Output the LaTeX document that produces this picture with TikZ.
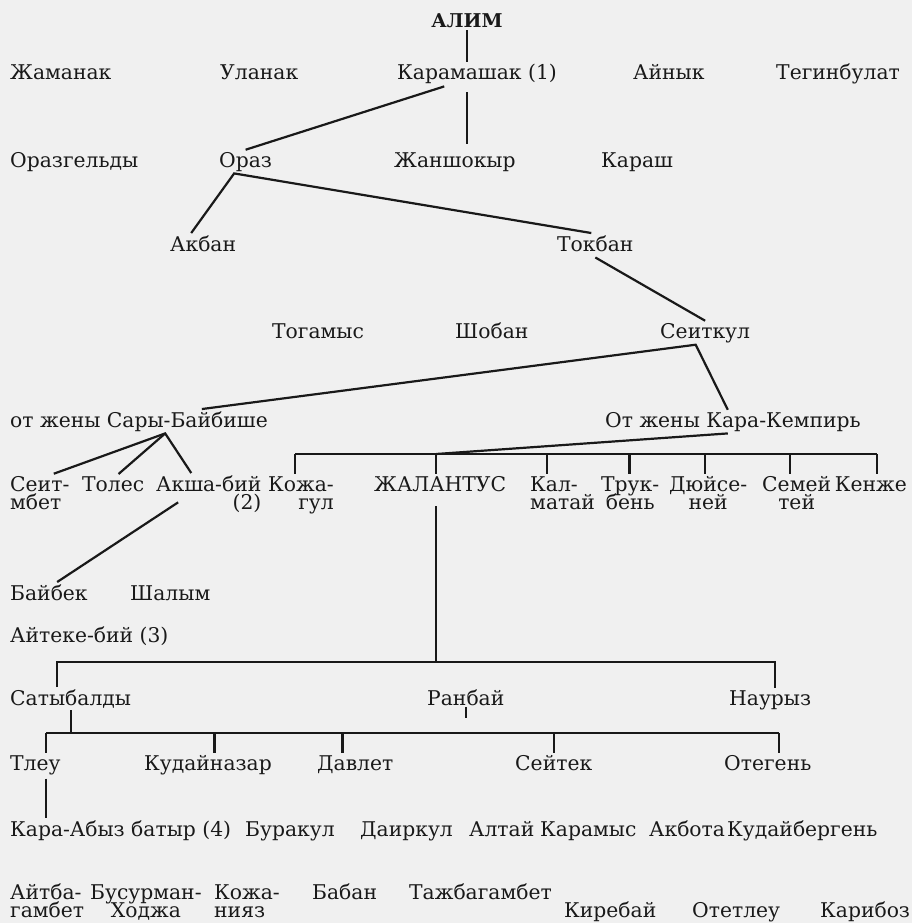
\documentclass[tikz,border=0pt]{standalone}
\usepackage{fontspec}
\setmainfont{DejaVu Serif}
\usetikzlibrary{calc}
\setlength{\lineskiplimit}{-30pt}
\tikzset{
	person/.style={anchor=base west, inner sep=2pt, text=black!90, font=\fontsize{20.3}{18}\selectfont},
	link/.style={line width=2.2pt, color=black!90}
}

\begin{document}
\begin{tikzpicture}[x=1pt, y=-1pt]
		%%%%% START %%%%%
		
		\fill[black!6] (0, 0) rectangle (912, 923);
		\useasboundingbox (0, 0) rectangle (912, 923);
		
		\node[person, anchor=base, font=\bfseries\fontsize{19}{19}\selectfont] (alim) at (467, 28) {АЛИМ};
		
		\node[person] (zhaman) at (8, 80) {Жаманак};
		\node[person] (ulanak) at (218, 80) {Уланак};
		\node[person] (karam) at (395, 80) {Карамашак (1)};
		\node[person] (ainyk) at (631, 80) {Айнык};
		\node[person] (tegin) at (774, 80) {Тегинбулат};
		
		\node[person] (orazg) at (8, 167) {Оразгельды};
		\node[person] (oraz) at (217, 167) {Ораз};
		\node[person] (zhansh) at (392, 167) {Жаншокыр};
		\node[person] (karash) at (599, 167) {Караш};
		
		\node[person] (akban) at (168, 251) {Акбан};
		\node[person] (tokban) at (555, 251) {Токбан};
		
		\node[person] (togam) at (270, 338) {Тогамыс};
		\node[person] (shoban) at (453, 338) {Шобан};
		\node[person] (seitk) at (658, 338) {Сеиткул};
		
		\node[person] (sary) at (8, 427) {от жены Сары-Байбише};
		\node[person] (karak) at (603, 427) {От жены Кара-Кемпирь};
		
		\node[person, align=left] (seit) at (8, 509) {Сеит-\\мбет};
		\node[person] (toles) at (80, 491) {Толес};
		\node[person, align=right] (aksha) at (154, 509) {Акша-бий\\(2)};
		\node[person, align=right] (kozha) at (266, 509) {Кожа-\\гул};
		\node[person] (zhal) at (372, 491) {ЖАЛАНТУС};
		\node[person, align=left] (kal) at (528, 509) {Кал-\\матай};
		\node[person, align=center] (truk) at (599, 509) {Трук-\\бень};
		\node[person, align=center] (dyuis) at (667, 509) {Дюйсе-\\ней};
		\node[person, align=center] (semei) at (760, 509) {Семей\\тей};
		\node[person, anchor=base east] (kenzhe) at (909, 491) {Кенже};
		
		\node[person] (baibek) at (8, 600) {Байбек};
		\node[person] (shalym) at (128, 600) {Шалым};
		\node[person] (aiteke) at (8, 642) {Айтеке-бий (3)};
		
		\node[person] (satyb) at (8, 705) {Сатыбалды};
		\node[person] (ranb) at (425, 705) {Ранбай};
		\node[person] (naur) at (727, 705) {Наурыз};
		
		\node[person] (tleu) at (8, 770) {Тлеу};
		\node[person] (kudain) at (142, 770) {Кудайназар};
		\node[person] (davlet) at (315, 770) {Давлет};
		\node[person] (seitek) at (513, 770) {Сейтек};
		\node[person] (otegen) at (722, 770) {Отегень};
		
		\node[person] (karaab) at (8, 836) {Кара-Абыз батыр (4)};
		\node[person] (burak) at (243, 836) {Буракул};
		\node[person] (dairk) at (358, 836) {Даиркул};
		\node[person] (altai) at (467, 836) {Алтай};
		\node[person] (karamys) at (538, 836) {Карамыс};
		\node[person] (akbota) at (647, 836) {Акбота};
		\node[person] (kudaib) at (725, 836) {Кудайбергень};
		
		\node[person, align=left] (aitba) at (8, 917) {Айтба-\\гамбет};
		\node[person, align=center] (busur) at (88, 917) {Бусурман-\\Ходжа};
		\node[person, align=left] (kozhan) at (212, 917) {Кожа-\\нияз};
		\node[person] (baban) at (310, 899) {Бабан};
		\node[person] (tazhb) at (407, 899) {Тажбагамбет};
		\node[person] (kireb) at (562, 917) {Киребай};
		\node[person] (otetl) at (690, 917) {Отетлеу};
		\node[person] (karib) at (818, 917) {Карибоз};
		
		\draw[link] (alim.south) -- (alim.south |- karam.north);
		\draw[link] ($(karam.south west)!.3!(karam.south east)$) -- (oraz.north);
		\draw[link] ($(alim.south |- karam.south)+(0, 6)$) -- ($(alim.south |- zhansh.north)+(0, -6)$);
		
		\coordinate (orazJ) at ($(oraz.south west)!.3!(oraz.south east)$);
		\draw[link] ($(akban.north west)!.33!(akban.north east)$) -- (orazJ) -- ($(tokban.north west)!.45!(tokban.north east)$);
		\draw[link] ($(tokban.south)+(0, 4)$) -- (seitk.north);
		
		\draw[link] ($(sary.north west)!.74!(sary.north east)$) -- ($(seitk.south west)!.4!(seitk.south east)$) -- ($(karak.north west)!.48!(karak.north east)$);
		
		\coordinate (saryJ) at ($(sary.south west)!.6!(sary.south east)$);
		\draw[link] ($(seit.north west)!.72!(seit.north east)$) -- (saryJ) -- ($(aksha.north west)!.34!(aksha.north east)$);
		\draw[link] ($(toles.north west)!.58!(toles.north east)$) -- (saryJ);
		\draw[link] ($(aksha.south west)!.22!(aksha.south east)+(0, -12)$) -- ($(baibek.north west)!.6!(baibek.north east)$);
		
		\coordinate (barK) at (0, 454);
		\foreach \n/\f in {kozha/.42, zhal/.47, kal/.28, truk/.49, dyuis/.46, semei/.41, kenzhe/.58}{
			\coordinate (\n-up) at ($(\n.north west)!\f!(\n.north east)$);
			\draw[link] (\n-up |- barK) -- (\n-up);
		}
		\draw[link] (kozha-up |- barK) -- (kenzhe-up |- barK);
		\draw[link] ($(karak.south west)!.48!(karak.south east)$) -- (zhal-up |- barK);
		
		\coordinate (bar1) at (0, 662);
		\coordinate (satyb-up) at ($(satyb.north west)!.39!(satyb.north east)$);
		\coordinate (naur-up) at ($(naur.north west)!.56!(naur.north east)$);
		\draw[link] ($(zhal-up |- zhal.south)+(0, 13)$) -- (zhal-up |- bar1);
		\draw[link] (satyb-up) -- (satyb-up |- bar1) -- (naur-up |- bar1) -- (naur-up);
		\coordinate (ranb-end) at ($(ranb.south)+(0, 11)$);
		\draw[link] (ranb.south) -- (ranb-end);
		
		\coordinate (bar2) at (0, 733);
		\draw[link] (satyb.south) -- (satyb.south |- bar2);
		\foreach \n/\f in {tleu/.7, kudain/.55, davlet/.34, seitek/.5, otegen/.62}{
			\coordinate (\n-up) at ($(\n.north west)!\f!(\n.north east)$);
			\draw[link] (\n-up |- bar2) -- (\n-up);
		}
		\draw[link] (tleu-up |- bar2) -- (otegen-up |- bar2);
		\draw[link] ($(tleu-up |- tleu.south)+(0, 2)$) -- (tleu-up |- karaab.north);
		
		%%%%% END %%%%%
	\end{tikzpicture}
\end{document}
